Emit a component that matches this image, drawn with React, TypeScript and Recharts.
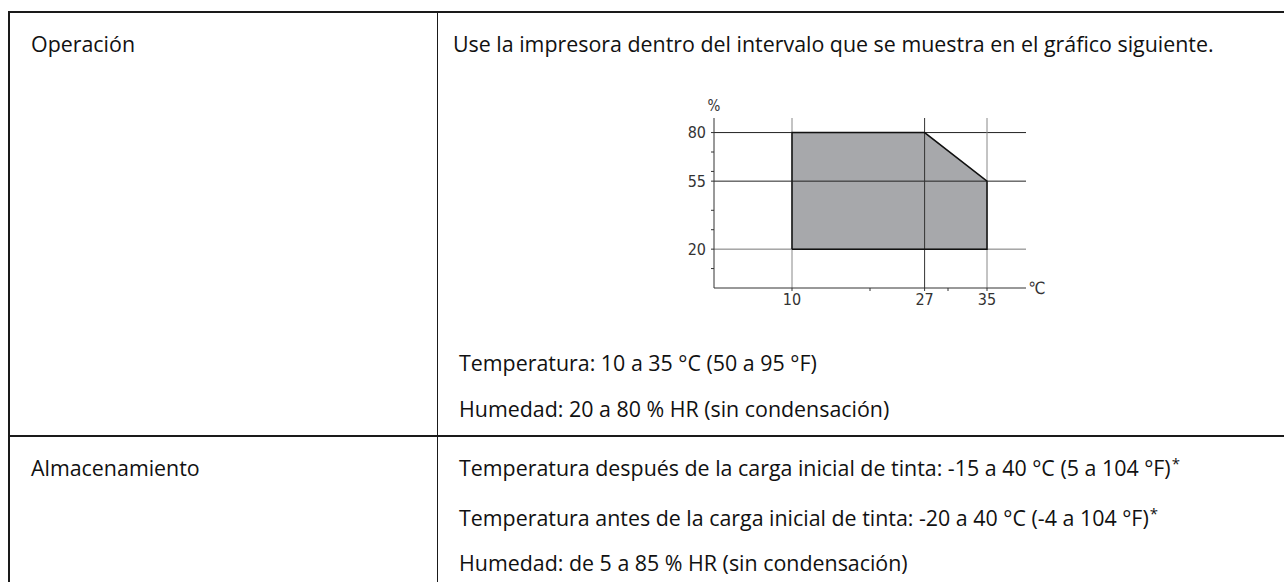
import { ComposedChart, Area, Line, XAxis, YAxis, ReferenceLine } from 'recharts';

const TEXT_FONT = '"Open Sans", "Noto Sans", sans-serif';
const CHART_FONT = '"Liberation Sans Narrow", "DejaVu Sans Condensed", sans-serif';

// axis ticks (minor ticks have no label)
const TEMP_TICKS = [10, 20, 27, 30, 35];
const TEMP_LABELS = [10, 27, 35];
const HUM_TICKS = [10, 20, 30, 40, 55, 60, 70, 80];
const HUM_LABELS = [20, 55, 80];

// operating zone: top edge, filled down to 20 %
const ZONE_TEMP = [10, 27, 35];
const ZONE_HUM = [80, 80, 55];
const ZONE_BASE = 20;

// closed outline of the zone
const OUTLINE_TEMP = [10, 10, 27, 35, 35, 10];
const OUTLINE_HUM = [20, 80, 80, 55, 20, 20];

const zoneData = ZONE_TEMP.map((t, i) => ({ t, h: ZONE_HUM[i] }));
const outlineData = OUTLINE_TEMP.map((t, i) => ({ t, h: OUTLINE_HUM[i] }));

const HumTick = ({ x, y, payload }: { x?: number; y?: number; payload?: { value: number } }) => {
  if (!payload || !HUM_LABELS.includes(payload.value)) return <g />;
  return (
    <text x={x} y={y} dy={5.5} textAnchor="end" fontSize={16} fill="#333" fontFamily={CHART_FONT}>
      {payload.value}
    </text>
  );
};

const TempTick = ({ x, y, payload }: { x?: number; y?: number; payload?: { value: number } }) => {
  if (!payload || !TEMP_LABELS.includes(payload.value)) return <g />;
  return (
    <text x={x} y={y} dy={11.5} textAnchor="middle" fontSize={16} fill="#333" fontFamily={CHART_FONT}>
      {payload.value}
    </text>
  );
};

const ClimateChart = () => (
  <ComposedChart
    width={416}
    height={230}
    data={zoneData}
    margin={{ top: 28, right: 40, bottom: 2, left: 0 }}
  >
    <XAxis
      dataKey="t"
      type="number"
      domain={[0, 40]}
      ticks={TEMP_TICKS}
      tick={<TempTick />}
      tickSize={3}
      tickMargin={2}
      height={30}
      stroke="#333"
      interval={0}
      allowDataOverflow
    />
    <YAxis
      dataKey="h"
      type="number"
      domain={[0, 87.5]}
      ticks={HUM_TICKS}
      tick={<HumTick />}
      tickSize={3}
      tickMargin={5}
      width={64}
      stroke="#333"
      interval={0}
      allowDataOverflow
    />
    <Area
      data={zoneData}
      dataKey="h"
      type="linear"
      baseValue={ZONE_BASE}
      stroke="none"
      fill="#a7a8ab"
      fillOpacity={1}
      isAnimationActive={false}
    />
    <ReferenceLine y={80} stroke="#222" />
    <ReferenceLine y={55} stroke="#222" />
    <ReferenceLine y={20} stroke="#777" />
    <ReferenceLine x={10} stroke="#888" />
    <ReferenceLine x={27} stroke="#333" />
    <ReferenceLine x={35} stroke="#888" />
    <Line
      data={outlineData}
      dataKey="h"
      type="linear"
      stroke="#111"
      strokeWidth={1.5}
      dot={false}
      activeDot={false}
      isAnimationActive={false}
    />
  </ComposedChart>
);

const Txt = ({ left, center, children }: { left: number; center: number; children: React.ReactNode }) => (
  <div
    style={{
      position: 'absolute',
      left,
      top: center - 15.7,
      lineHeight: '30px',
      fontSize: 21.4,
      fontFamily: TEXT_FONT,
      color: '#111',
      whiteSpace: 'nowrap',
    }}
  >
    {children}
  </div>
);

const Sup = () => <sup style={{ fontSize: 15, verticalAlign: 'top', position: 'relative', top: -5, marginLeft: 1 }}>*</sup>;

const line = (left: number, top: number, width: number, height: number) => (
  <div style={{ position: 'absolute', left, top, width, height, background: '#1a1a1a' }} />
);

export default function App() {
  return (
    <div style={{ position: 'fixed', left: 0, top: 0, width: 1284, height: 582, overflow: 'hidden', background: '#fff' }}>
      {line(8, 11, 1290, 1.5)}
      {line(8, 11, 1.5, 600)}
      {line(436.5, 11, 1.5, 600)}
      {line(8, 435, 1290, 1.5)}

      <Txt left={31} center={44.7}>Operación</Txt>
      <Txt left={453} center={44.7}>Use la impresora dentro del intervalo que se muestra en el gráfico siguiente.</Txt>

      <div style={{ position: 'absolute', left: 650, top: 90 }}>
        <ClimateChart />
      </div>
      <div style={{ position: 'absolute', left: 704, top: 96, width: 20, textAlign: 'center', fontSize: 15, lineHeight: '20px', fontFamily: CHART_FONT, color: '#333' }}>
        %
      </div>
      <div style={{ position: 'absolute', left: 1026, top: 278, width: 22, textAlign: 'center', fontSize: 17, lineHeight: '20px', fontFamily: CHART_FONT, color: '#333' }}>
        ℃
      </div>

      <Txt left={459} center={364}>Temperatura: 10 a 35 °C (50 a 95 °F)</Txt>
      <Txt left={459} center={410}>Humedad: 20 a 80 % HR (sin condensación)</Txt>

      <Txt left={31} center={469}>Almacenamiento</Txt>
      <Txt left={459} center={469}>
        Temperatura después de la carga inicial de tinta: -15 a 40 °C (5 a 104 °F)
        <Sup />
      </Txt>
      <Txt left={459} center={519}>
        Temperatura antes de la carga inicial de tinta: -20 a 40 °C (-4 a 104 °F)
        <Sup />
      </Txt>
      <Txt left={459} center={564}>Humedad: de 5 a 85 % HR (sin condensación)</Txt>
    </div>
  );
}
